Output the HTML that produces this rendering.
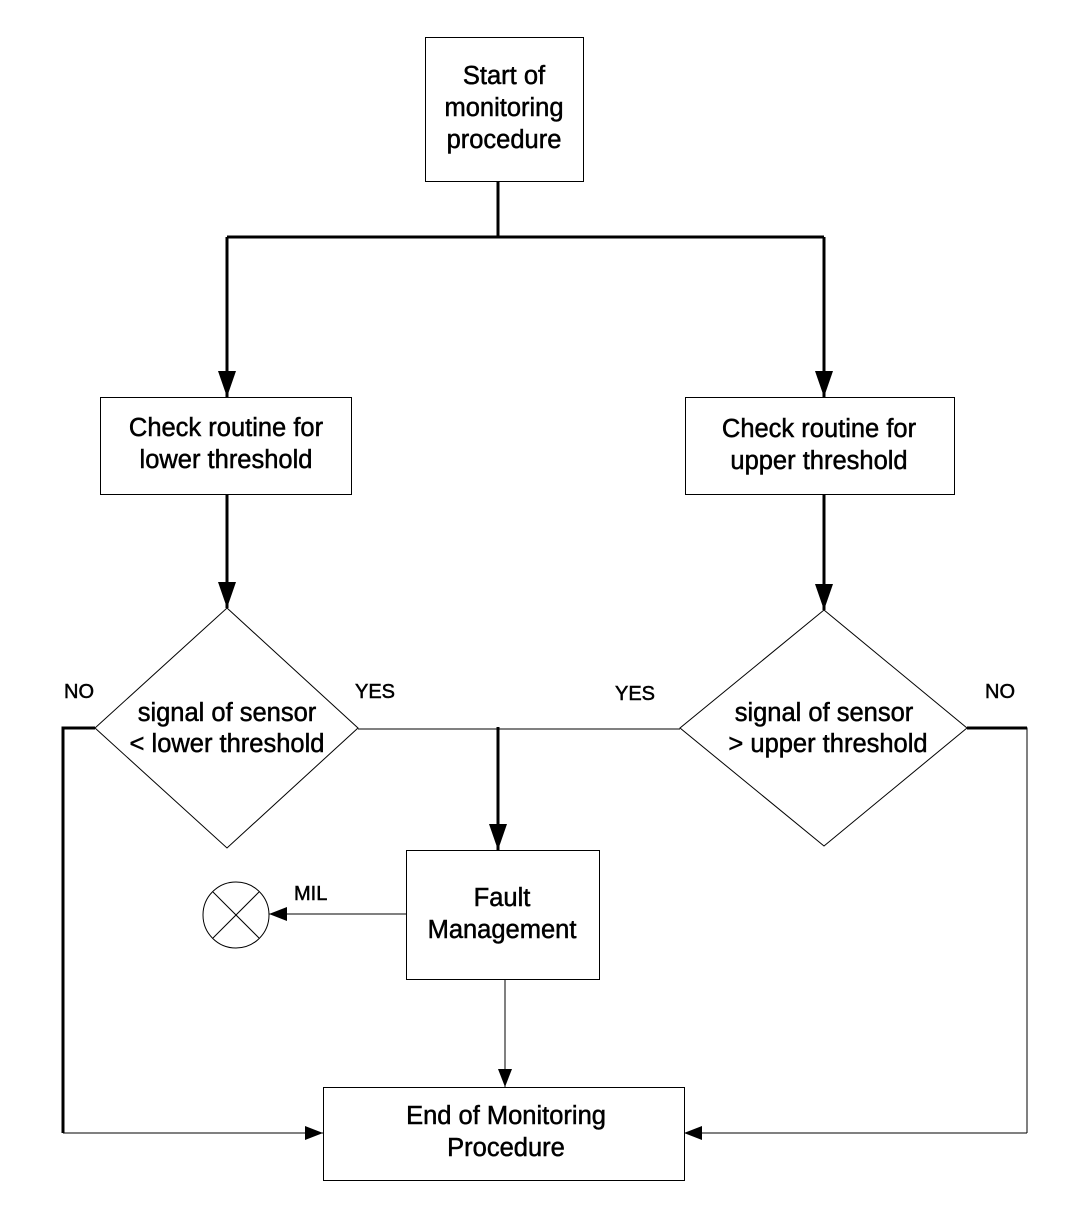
<!DOCTYPE html>
<html><head><meta charset="utf-8"><style>
html,body{margin:0;padding:0;background:#fff;}
svg{display:block;}
text{font-family:"Liberation Sans",Arial,sans-serif;fill:#000;stroke:#000;stroke-width:0.5;}
.b{font-size:25.5px;text-anchor:middle;}
.l{font-size:20px;}
</style></head><body>
<svg width="1072" height="1226" viewBox="0 0 1072 1226" xmlns="http://www.w3.org/2000/svg">
<defs>
<marker id="A" markerWidth="26" markerHeight="18" refX="26" refY="9" orient="auto" markerUnits="userSpaceOnUse" viewBox="0 0 26 18">
<path d="M0,0 L26,9 L0,18 z" fill="#000"/></marker>
<marker id="s" markerWidth="18" markerHeight="14" refX="18" refY="7" orient="auto" markerUnits="userSpaceOnUse" viewBox="0 0 18 14">
<path d="M0,0 L18,7 L0,14 z" fill="#000"/></marker>
</defs>
<g fill="none" stroke="#000">
<rect x="425.5" y="37.5" width="158" height="144" stroke-width="1"/>
<rect x="100.5" y="397.5" width="251" height="97" stroke-width="1"/>
<rect x="685.5" y="397.5" width="269" height="97" stroke-width="1"/>
<rect x="406.5" y="850.5" width="193" height="129" stroke-width="1"/>
<rect x="323.5" y="1087.5" width="361" height="93" stroke-width="1"/>
<polygon points="227,608 358,728 227,848 95,728" stroke-width="1"/>
<polygon points="824,610 967,728 824,846 680,728" stroke-width="1"/>
<circle cx="236" cy="915" r="33" stroke-width="1"/>
<line x1="213" y1="892" x2="259" y2="938" stroke-width="1"/>
<line x1="259" y1="892" x2="213" y2="938" stroke-width="1"/>
<path d="M498,181 V237 M227,237 H824" stroke-width="3"/>
<line x1="227" y1="237" x2="227" y2="397" stroke-width="3" marker-end="url(#A)"/>
<line x1="824" y1="237" x2="824" y2="397" stroke-width="3" marker-end="url(#A)"/>
<line x1="227" y1="494" x2="227" y2="608" stroke-width="3" marker-end="url(#A)"/>
<line x1="824" y1="494" x2="824" y2="610" stroke-width="3" marker-end="url(#A)"/>
<line x1="358" y1="729" x2="680" y2="729" stroke-width="1"/>
<line x1="498" y1="727" x2="498" y2="850" stroke-width="3" marker-end="url(#A)"/>
<line x1="406" y1="914" x2="269" y2="914" stroke-width="1" marker-end="url(#s)"/>
<line x1="505" y1="979" x2="505" y2="1087" stroke-width="1" marker-end="url(#s)"/>
<path d="M95,728 H63 V1133" stroke-width="3"/>
<line x1="63" y1="1133" x2="323" y2="1133" stroke-width="1" marker-end="url(#s)"/>
<path d="M967,728 H1027 V1133" stroke-width="1"/>
<line x1="967" y1="728" x2="1027" y2="728" stroke-width="3"/>
<line x1="1027" y1="1133" x2="684" y2="1133" stroke-width="1" marker-end="url(#s)"/>
</g>
<text class="b" x="504" y="84">Start of</text>
<text class="b" x="504" y="116">monitoring</text>
<text class="b" x="504" y="148">procedure</text>
<text class="b" x="226" y="436">Check routine for</text>
<text class="b" x="226" y="468">lower threshold</text>
<text class="b" x="819" y="437">Check routine for</text>
<text class="b" x="819" y="469">upper threshold</text>
<text class="b" x="227" y="721">signal of sensor</text>
<text class="b" x="227" y="752">&lt; lower threshold</text>
<text class="b" x="824" y="721">signal of sensor</text>
<text class="b" x="828" y="752">&gt; upper threshold</text>
<text class="b" x="502" y="906">Fault</text>
<text class="b" x="502" y="938">Management</text>
<text class="b" x="506" y="1124">End of Monitoring</text>
<text class="b" x="506" y="1156">Procedure</text>
<text class="l" x="64" y="698">NO</text>
<text class="l" x="355" y="698">YES</text>
<text class="l" x="615" y="700">YES</text>
<text class="l" x="985" y="698">NO</text>
<text class="l" x="294" y="900">MIL</text>
</svg>
</body></html>
